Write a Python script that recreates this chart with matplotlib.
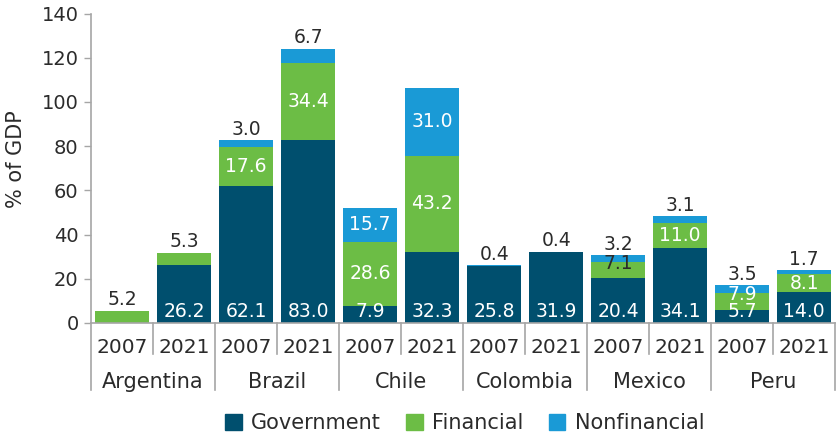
import numpy as np
import matplotlib.pyplot as plt
import matplotlib as mpl
from matplotlib.patches import Patch

mpl.rc('font', family=['DejaVu Sans'])

countries = ["Argentina", "Brazil", "Chile", "Colombia", "Mexico", "Peru"]
years = ["2007", "2021"]
government = [0.0, 26.2, 62.1, 83.0, 7.9, 32.3, 25.8, 31.9, 20.4, 34.1, 5.7, 14.0]
financial = [5.2, 5.3, 17.6, 34.4, 28.6, 43.2, 0.0, 0.0, 7.1, 11.0, 7.9, 8.1]
nonfinancial = [0.0, 0.0, 3.0, 6.7, 15.7, 31.0, 0.4, 0.4, 3.2, 3.1, 3.5, 1.7]

c_gov = "#004f6e"
c_fin = "#6cbd45"
c_non = "#1a9ad6"
c_txt = "#2b2b2b"
c_ax = "#a6a6a6"

gov = np.array(government)
fin = np.array(financial)
non = np.array(nonfinancial)
x = np.arange(len(gov))
w = 0.87

fig = plt.figure(figsize=(8.36, 4.38), dpi=100)
ax = fig.add_axes([0.109, 0.2626, 0.89, 0.7065])

ax.bar(x, gov, w, color=c_gov)
ax.bar(x, fin, w, bottom=gov, color=c_fin)
ax.bar(x, non, w, bottom=gov + fin, color=c_non)

fs_val = 13.5
for i in x:
    total = gov[i] + fin[i] + non[i]
    if gov[i] > 0:
        ax.text(i, 1.0, f"{gov[i]:.1f}", ha="center", va="bottom", color="white", fontsize=fs_val)
    if fin[i] > 6:
        col = c_txt if i == 8 else "white"
        yy = gov[i] + fin[i] / 2
        if fin[i] < 8 and gov[i] < 25:
            # small segments: label pushed up toward the top, as in the original
            yy = gov[i] + fin[i] - 0.6
        ax.text(i, yy, f"{fin[i]:.1f}", ha="center", va="center", color=col, fontsize=fs_val)
    elif fin[i] > 0:
        ax.annotate(f"{fin[i]:.1f}", (i, total), xytext=(0, 2), textcoords="offset points",
                    ha="center", va="bottom", color=c_txt, fontsize=fs_val)
    if non[i] > 10:
        ax.text(i, gov[i] + fin[i] + non[i] / 2, f"{non[i]:.1f}", ha="center", va="center", color="white", fontsize=fs_val)
    elif non[i] > 0:
        ax.annotate(f"{non[i]:.1f}", (i, total), xytext=(0, 1), textcoords="offset points",
                    ha="center", va="bottom", color=c_txt, fontsize=fs_val)

ax.set_xlim(-0.5, len(x) - 0.5)
ax.set_ylim(0, 140)
ax.set_yticks(np.arange(0, 141, 20))
ax.tick_params(axis="y", colors=c_ax, labelcolor=c_txt, labelsize=14, length=5, width=1, pad=4)
ax.set_xticks([])
for s in ["top", "right"]:
    ax.spines[s].set_visible(False)
for s in ["left", "bottom"]:
    ax.spines[s].set_color(c_ax)
    ax.spines[s].set_linewidth(1.2)
ax.set_ylabel("% of GDP", fontsize=15, color=c_txt)
ax.yaxis.set_label_coords(-0.088, 0.53)

# two-level category axis
tr = ax.get_xaxis_transform()
for k in range(len(x) + 1):
    b = k - 0.5
    low = -0.216 if k % 2 == 0 else -0.1
    ax.plot([b, b], [0, low], transform=tr, color=c_ax, lw=1.2, clip_on=False)
for i in x:
    ax.text(i, -0.078, years[i % 2], transform=tr, ha="center", va="center", fontsize=14.5, color=c_txt)
for g, name in enumerate(countries):
    ax.text(2 * g + 0.5, -0.19, name, transform=tr, ha="center", va="center", fontsize=15, color=c_txt)

handles = [Patch(color=c_gov), Patch(color=c_fin), Patch(color=c_non)]
fig.legend(handles, ["Government", "Financial", "Nonfinancial"], loc="center",
           bbox_to_anchor=(0.556, 0.034), ncol=3, frameon=False, fontsize=15,
           handlelength=0.8, handleheight=0.8, handletextpad=0.45, columnspacing=1.2,
           labelcolor=c_txt)

fig.savefig("out.png", dpi=100)
